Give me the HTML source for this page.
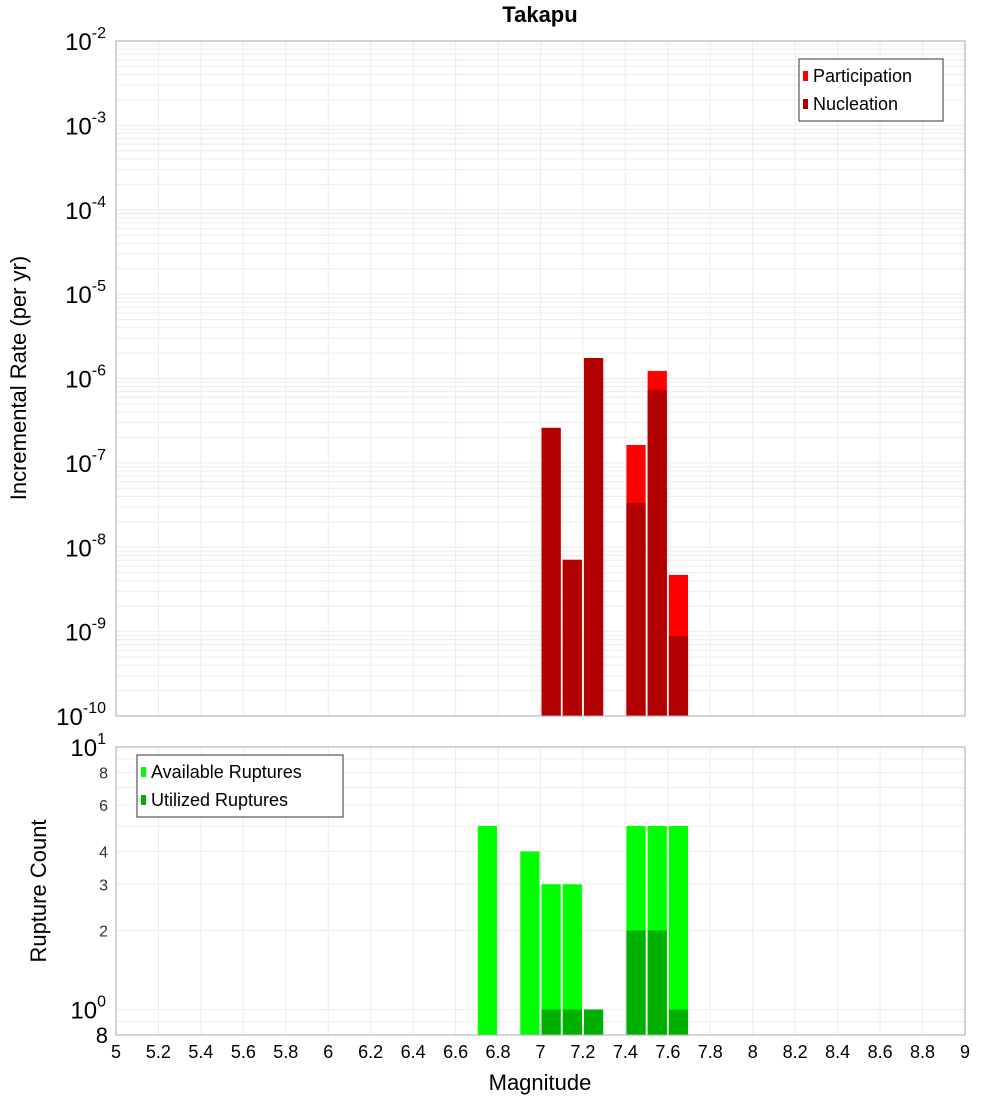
<!DOCTYPE html>
<html><head><meta charset="utf-8"><style>
body{margin:0;background:#fff;}
svg text{font-family:"Liberation Sans","DejaVu Sans",sans-serif;}
</style></head><body>
<svg id="c" width="1000" height="1100" xmlns="http://www.w3.org/2000/svg"></svg>
<script>
const mags=[7.05,7.15,7.25,7.45,7.55,7.65];
const participation=[2.6e-7,7.1e-9,1.75e-6,1.63e-7,1.23e-6,4.7e-9];
const nucleation=[2.6e-7,7.1e-9,1.75e-6,3.36e-8,7.3e-7,8.9e-10];
const countMags=[6.75,6.95,7.05,7.15,7.25,7.45,7.55,7.65];
const available=[5,4,3,3,1,5,5,5];
const utilized=[0,0,1,1,1,2,2,1];
const xTicks=[5,5.2,5.4,5.6,5.8,6,6.2,6.4,6.6,6.8,7,7.2,7.4,7.6,7.8,8,8.2,8.4,8.6,8.8,9];
const topExps=[-2,-3,-4,-5,-6,-7,-8,-9,-10];
const botTicks=[8,6,4,3,2];

const S=document.getElementById('c');const NS='http://www.w3.org/2000/svg';
function el(t,a,p){const e=document.createElementNS(NS,t);for(const k in a)e.setAttribute(k,a[k]);(p||S).appendChild(e);return e;}
const L=116,R=965,T1=41,B1=716,T2=747,B2=1035;
const X=m=>L+(m-5)*(R-L)/4;
const Y1=v=>T1+(-2-Math.log10(v))*(B1-T1)/8;
const lb0=Math.log10(0.8);
const Y2=v=>T2+(1-Math.log10(v))*(B2-T2)/(1-lb0);

// grids
const g=el('g',{});

xTicks.forEach(t=>{el('line',{x1:X(t),x2:X(t),y1:T1,y2:B1,stroke:'#ececec'},g);el('line',{x1:X(t),x2:X(t),y1:T2,y2:B2,stroke:'#ececec'},g);});
for(let e=-10;e<-2;e++)for(let k=1;k<10;k++){const y=Y1(k*Math.pow(10,e));el('line',{x1:L,x2:R,y1:y,y2:y,stroke:'#ececec'},g);}
for(let k=1;k<=10;k++){const y=Y2(k);el('line',{x1:L,x2:R,y1:y,y2:y,stroke:'#ececec'},g);}
el('line',{x1:L,x2:R,y1:Y2(0.9),y2:Y2(0.9),stroke:'#ececec'},g);

// top bars
mags.forEach((m,i)=>{
 const x0=X(m-0.05)+1,w=X(m+0.05)-X(m-0.05)-2;
 const p=el('rect',{x:x0,y:Y1(participation[i]),width:w,height:B1-Y1(participation[i]),fill:'#ff0000'});
 
 const n=el('rect',{x:x0,y:Y1(nucleation[i]),width:w,height:B1-Y1(nucleation[i]),fill:'#b30000'});
 
});
// bottom bars
countMags.forEach((m,i)=>{
 const x0=X(m-0.05)+1,w=X(m+0.05)-X(m-0.05)-2;
 const a=el('rect',{x:x0,y:Y2(available[i]),width:w,height:B2-Y2(available[i]),fill:'#00ff00'});
 
 if(utilized[i]>0){const u=el('rect',{x:x0,y:Y2(utilized[i]),width:w,height:B2-Y2(utilized[i]),fill:'#00b000'});
 }
});
// frames
el('rect',{x:L,y:T1,width:R-L,height:B1-T1,fill:'none',stroke:'#aaa'});
el('rect',{x:L,y:T2,width:R-L,height:B2-T2,fill:'none',stroke:'#aaa'});

// title
const tt=el('text',{x:540,y:22,'text-anchor':'middle','font-size':22,'font-weight':'bold'});tt.textContent='Takapu';


// top y ticks
topExps.forEach(e=>{const y=Y1(Math.pow(10,e));
 const t=el('text',{x:106,y:y+9,'text-anchor':'end','font-size':24});
 t.innerHTML='10<tspan dy="-12" font-size="16">'+e+'</tspan>';
 });
// bottom y ticks
[[10,'1'],[1,'0']].forEach(([v,e])=>{const t=el('text',{x:106,y:Y2(v)+9,'text-anchor':'end','font-size':24});
 t.innerHTML='10<tspan dy="-12" font-size="16">'+e+'</tspan>';
 });
botTicks.forEach(v=>{const t=el('text',{x:108,y:Y2(v)+6,'text-anchor':'end','font-size':16,fill:'#333'});t.textContent=v;
 });
const t8=el('text',{x:108,y:Y2(0.8)+8,'text-anchor':'end','font-size':22});t8.textContent='8';

// x ticks
xTicks.forEach(v=>{const t=el('text',{x:X(v),y:1058,'text-anchor':'middle','font-size':18});t.textContent=String(v);
 });
// axis titles
const xt=el('text',{x:540,y:1090,'text-anchor':'middle','font-size':22});xt.textContent='Magnitude';

const y1t=el('text',{x:26,y:378,'text-anchor':'middle','font-size':22,transform:'rotate(-90 26 378)'});y1t.textContent='Incremental Rate (per yr)';

const y2t=el('text',{x:46,y:891,'text-anchor':'middle','font-size':22,transform:'rotate(-90 46 891)'});y2t.textContent='Rupture Count';


// legends
function legend(x,y,w,items,name){const lg=el('g',{});
 el('rect',{x:x,y:y,width:w,height:items.length*28+6,fill:'#fff',stroke:'#333'},lg);
 items.forEach(([c,s],i)=>{el('rect',{x:x+4,y:y+12+i*28,width:5,height:10,fill:c},lg);
  const t=el('text',{x:x+14,y:y+23+i*28,'font-size':18},lg);t.textContent=s;});}
legend(799,59,144,[['#ff0000','Participation'],['#b30000','Nucleation']],'rate-legend');
legend(137,755,206,[['#00ff00','Available Ruptures'],['#00b000','Utilized Ruptures']],'count-legend');
</script>
</body></html>
